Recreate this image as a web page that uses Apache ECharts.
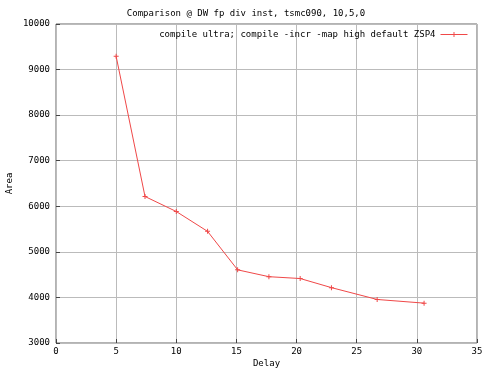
<!DOCTYPE html>
<html><head><meta charset="utf-8">
<script src="https://cdn.jsdelivr.net/npm/echarts@6/dist/echarts.min.js"></script>
<style>html,body{margin:0;padding:0;background:#fff}#c{width:492px;height:369px}</style>
</head><body><div id="c"></div>
<script>
const delay = [5.0, 7.4, 10.0, 12.6, 15.1, 17.7, 20.3, 22.9, 26.7, 30.6];
const area = [9290, 6215, 5885, 5450, 4605, 4455, 4415, 4215, 3955, 3875];
const seriesName = 'compile ultra; compile -incr -map high default ZSP4';
const titleText = 'Comparison @ DW fp div inst, tsmc090, 10,5,0';
const font = 'DejaVu Sans Mono';
const plus = 'path://M4,0h2v4h4v2h-4v4h-2v-4h-4v-2h4z';
const chart = echarts.init(document.getElementById('c'), null, {renderer:'canvas'});
chart.setOption({
  animation:false,
  backgroundColor:'#fff',
  title:{text:titleText,left:'center',top:4,textStyle:{fontFamily:font,fontSize:9,fontWeight:'normal',color:'#000'}},
  legend:{right:19,top:25,align:'right',itemWidth:27,itemHeight:6,itemGap:0,
    lineStyle:{width:1},
    textStyle:{fontFamily:font,fontSize:9,color:'#000'},
    data:[seriesName]},
  grid:{left:56,right:15,top:24,bottom:26,show:true,borderColor:'#666',borderWidth:1,
    containLabel:false,outerBoundsMode:'none'},
  xAxis:{type:'value',min:0,max:35,interval:5,name:'Delay',nameLocation:'middle',nameGap:16,nameMoveOverlap:false,
    nameTextStyle:{fontFamily:font,fontSize:9,color:'#000'},
    axisLine:{show:false},axisTick:{inside:true,length:4,lineStyle:{color:'#444'}},
    axisLabel:{fontFamily:font,fontSize:9,color:'#000',margin:4,formatter:v=>String(v)},
    splitLine:{lineStyle:{color:'#bbb',width:1}}},
  yAxis:{type:'value',min:3000,max:10000,interval:1000,name:'Area',nameLocation:'middle',nameGap:42,nameMoveOverlap:false,
    nameTextStyle:{fontFamily:font,fontSize:9,color:'#000'},
    axisLine:{show:false},axisTick:{inside:true,length:4,lineStyle:{color:'#444'}},
    axisLabel:{fontFamily:font,fontSize:9,color:'#000',margin:6,formatter:v=>String(v)},
    splitLine:{lineStyle:{color:'#bbb',width:1}}},
  series:[{name:seriesName,type:'line',data:delay.map((d,i)=>[d,area[i]]),
    symbol:plus,symbolSize:5,color:'#f04848',
    lineStyle:{color:'#f04848',width:1},itemStyle:{color:'#f04848'}}]
});
</script></body></html>
